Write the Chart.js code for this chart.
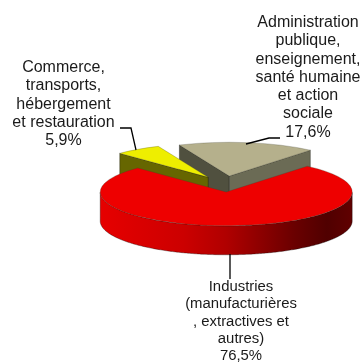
<!DOCTYPE html>
<html>
<head>
<meta charset="utf-8">
<style>
  html, body { margin: 0; padding: 0; background: #fff; }
  #wrap { width: 360px; height: 363px; }
</style>
<script src="https://cdn.jsdelivr.net/npm/chart.js@4"></script>
</head>
<body>
<div id="wrap"><canvas id="pie" width="360" height="363"></canvas></div>
<script>
// values
const categories = ['Industries (manufacturières, extractives et autres)', 'Commerce, transports, hébergement et restauration', 'Administration publique, enseignement, santé humaine et action sociale'];
const values = [76.5, 5.9, 17.6];
const topColors = ['#ee0000', '#eeee00', '#b5b08c'];
const startWallColors = ['#660000', '#666600', '#50503f'];
const endWallColors = ['#660000', '#666600', '#6b6b55'];

// label text, one entry per printed line
const labelIndustries = ['Industries', '(manufacturières', ', extractives et', 'autres)', '76,5%'];
const labelCommerce = ['Commerce,', 'transports,', 'hébergement', 'et restauration', '5,9%'];
const labelAdmin = ['Administration', 'publique,', 'enseignement,', 'santé humaine', 'et action', 'sociale', '17,6%'];

// fake 3D settings
const tilt = 0.268;
const depth = 29;
const explode = 30;
const paintOrder = [2, 1, 0];

function wall(ctx, pts, fill) {
  ctx.beginPath();
  pts.forEach(function (p, i) { i ? ctx.lineTo(p[0], p[1]) : ctx.moveTo(p[0], p[1]); });
  ctx.closePath();
  ctx.fillStyle = fill;
  ctx.fill();
  ctx.strokeStyle = 'rgba(0,0,0,0.55)';
  ctx.lineWidth = 0.6;
  ctx.stroke();
}

function drawSides(ctx, arc, i) {
  const r = arc.outerRadius;
  const s = arc.startAngle, e = arc.endAngle, mid = (s + e) / 2;
  const ox = arc.x + Math.cos(mid) * explode;
  const oy = arc.y + Math.sin(mid) * explode * tilt;
  const at = function (a, d) { return [ox + Math.cos(a) * r, oy + Math.sin(a) * r * tilt + d]; };

  // flat walls along the two cuts, only when they face the viewer
  if (Math.sin(s - Math.PI / 2) > 0) {
    wall(ctx, [[ox, oy], at(s, 0), at(s, depth), [ox, oy + depth]], startWallColors[i]);
  }
  if (Math.sin(e + Math.PI / 2) > 0) {
    wall(ctx, [[ox, oy], at(e, 0), at(e, depth), [ox, oy + depth]], endWallColors[i]);
  }

  // rim, front half only
  const pts = [], low = [];
  for (let k = 0; k <= 360; k++) {
    const a = s + (e - s) * k / 360;
    if (Math.sin(a) >= 0) { pts.push(at(a, 0)); low.unshift(at(a, depth)); }
  }
  if (pts.length) {
    const g = ctx.createLinearGradient(ox - r, 0, ox + r, 0);
    g.addColorStop(0, '#e60000');
    g.addColorStop(0.33, '#cc0000');
    g.addColorStop(0.5, '#b00000');
    g.addColorStop(0.77, '#6a0000');
    g.addColorStop(0.9, '#500000');
    g.addColorStop(1, '#600000');
    wall(ctx, pts.concat(low), g);
  }
}

const pie3d = {
  id: 'pie3d',
  beforeDatasetDraw: function (chart, args) {
    const ctx = chart.ctx;
    const arcs = chart.getDatasetMeta(args.index).data;
    paintOrder.forEach(function (i) {
      const arc = arcs[i];
      const mid = (arc.startAngle + arc.endAngle) / 2;
      ctx.save();
      drawSides(ctx, arc, i);
      ctx.restore();
      // top face, squashed around the chart centre and pulled out along its middle
      ctx.save();
      ctx.translate(arc.x, arc.y);
      ctx.scale(1, tilt);
      ctx.translate(Math.cos(mid) * explode, Math.sin(mid) * explode);
      ctx.translate(-arc.x, -arc.y);
      arc.draw(ctx, chart.chartArea);
      ctx.restore();
    });
    return false;
  }
};

function textBlock(ctx, lines, x, y, gap) {
  lines.forEach(function (t, i) { ctx.fillText(t, x, y + i * gap); });
}

function leader(ctx, pts) {
  ctx.beginPath();
  pts.forEach(function (p, i) { i ? ctx.lineTo(p[0], p[1]) : ctx.moveTo(p[0], p[1]); });
  ctx.stroke();
}

const labels3d = {
  id: 'labels3d',
  afterDraw: function (chart) {
    const ctx = chart.ctx;
    ctx.save();
    ctx.fillStyle = '#1a1a1a';
    ctx.textAlign = 'center';
    ctx.textBaseline = 'middle';
    ctx.font = '16px "Liberation Sans", Arial, sans-serif';
    textBlock(ctx, labelAdmin, 308, 22.5, 18.3);
    textBlock(ctx, labelCommerce, 63.5, 67.5, 18.3);
    ctx.font = '14.9px "Liberation Sans", Arial, sans-serif';
    textBlock(ctx, labelIndustries, 241, 287, 17.3);
    ctx.strokeStyle = '#000';
    ctx.lineWidth = 1.3;
    leader(ctx, [[120, 128], [131, 128], [136, 150]]);
    leader(ctx, [[280, 138], [269, 138], [246, 144]]);
    leader(ctx, [[230, 254], [230, 279]]);
    ctx.restore();
  }
};

new Chart(document.getElementById('pie'), {
  type: 'pie',
  data: {
    labels: categories,
    datasets: [{
      data: values,
      backgroundColor: topColors,
      borderColor: 'rgba(60,60,40,0.7)',
      borderWidth: 0.6,
      clip: false
    }]
  },
  options: {
    responsive: false,
    animation: false,
    events: [],
    rotation: 40,
    radius: 126,
    layout: { padding: { left: 90, top: 5 } },
    plugins: { legend: { display: false }, tooltip: { enabled: false } }
  },
  plugins: [pie3d, labels3d]
});
</script>
</body>
</html>
